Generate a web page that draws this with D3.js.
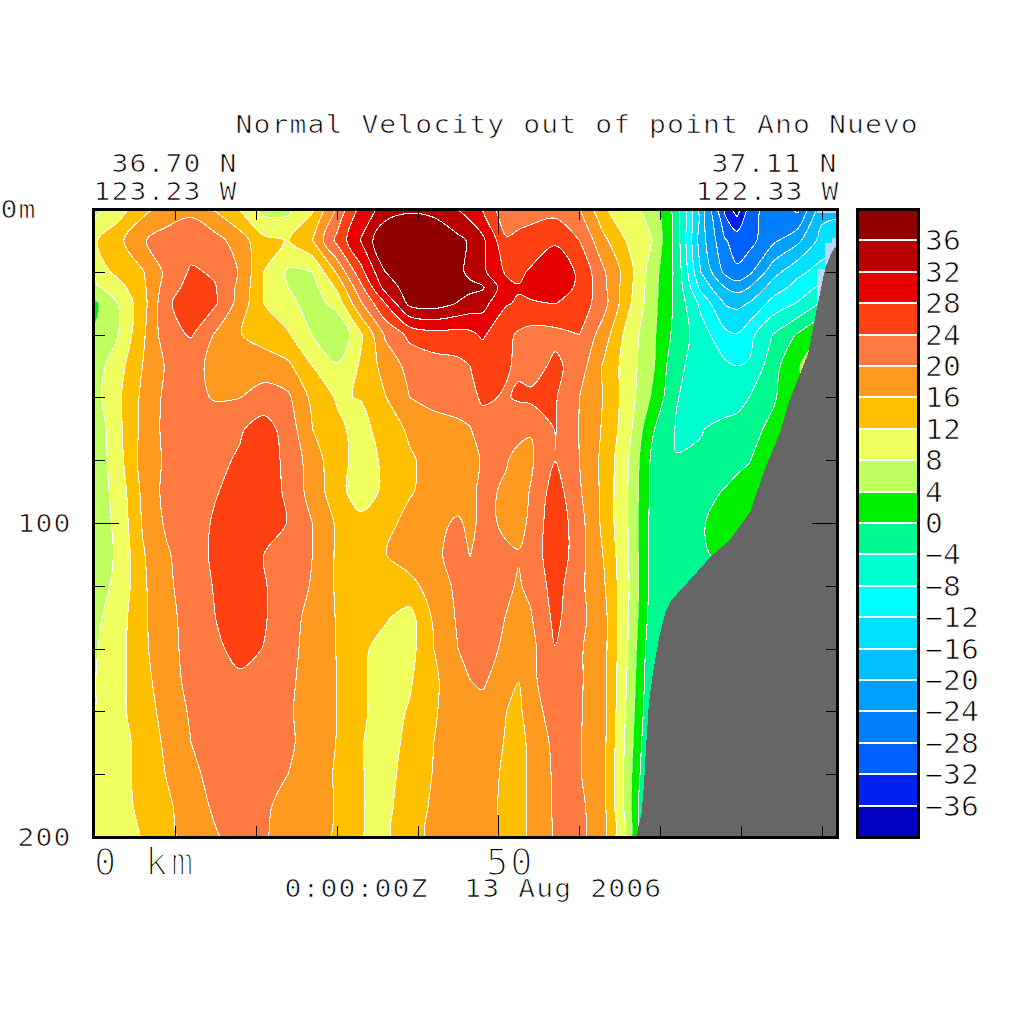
<!DOCTYPE html>
<html><head><meta charset="utf-8">
<script src="https://cdn.jsdelivr.net/npm/d3@7"></script>
<style>
html,body{margin:0;padding:0;background:#fff}
svg{display:block}
text{font-family:"DejaVu Sans Mono",monospace;fill:#000;stroke:#fff;stroke-width:.75px;white-space:pre}
</style></head><body>
<svg id="c" width="1024" height="1024"></svg>
<script>
// --- data ---
const kmCols=[0,3,6,9,12,15,18,21,24,27,30,33,36,39,42,45,46.5,48,51,52.5,54,57,60,63,66,69,72,75,78,79.5,81,84,87,90,93];
const depthRows=[0,10,20,25,30,40,50,60,70,80,90,100,110,120,130,140,150,160,170,180,190,200];
const d000=[6.5,10,14.6,18,19.2,15.5,11.8,6.5,7,11.4,20.5,29.5,33.5,35.6,35,31.9,30,28,20.5,22.5,23,22.5,20.3,12.5,9.5,6.5,-2,-18,-33,-38,-30.5,-25,-29,-17.5,-17];
const d010=[11.5,14.9,19.7,21.5,22.2,21.5,18,13,11.8,16,25,32.2,40,38.5,38.7,37,35.5,33,24.5,24.8,25,27.6,24,17,11.5,8,-1.7,-18,-27.7,-29.5,-29.5,-24.8,-21,-14.5,-14];
const d020=[10,13,15.7,21,24.5,23.5,19.7,12,7.4,8,16.5,26.7,36,38.5,38.7,37,35,33,27.3,27,28.6,30,27.5,20.5,14,6,-1,-16,-25,-27.5,-25,-17.5,-13,-10.5,-8];
const d025=[7,10.5,15,22,25.5,24.2,19,12,8,6.5,12.5,23,33.5,38,39,37.5,37,36.5,29.5,28.3,29,29.5,27.5,21,13.5,5.7,-1,-13,-20,-21.5,-20,-14,-10.5,-7,-5];
const d030=[3,8.2,14.3,23.3,26.5,24.5,18.5,12,9.3,6,9.5,19.6,28,37.2,38,35.8,34.5,33.5,28.3,27.6,27.7,28.1,26.5,21.5,13,5.5,-1,-9,-16.3,-17,-15.8,-10.5,-7.7,-3.5,-2];
const d040=[4.4,8,15.2,22.5,24.4,19.6,16.2,14.2,12.4,7.8,3.9,11.5,20.5,25,26.5,26.5,27,28.6,25,23.4,22.5,22.8,24,18,10.5,5,-1.5,-6,-11,-11.8,-9.3,-3.8,0.4,4,4];
const d050=[6,10.4,16,20.5,20.7,19.4,18,18.3,16.8,12,8.4,12.5,17.6,21.2,22.2,23,24,25,24.3,23.5,22,25,22,15.5,10,4.8,-3.2,-5.5,-7.2,-8,-7.6,-1.5,3.9,5,5];
const d060=[6.5,11.3,16.8,21,21.6,19.5,19.9,21.5,20.7,15,11.6,12.2,15.8,20,21.5,22.5,23,24.5,23.7,24.5,25,24.4,20,15.8,10,3.5,-3.8,-5.8,-5.8,-5.5,-4,-0.5,3.5,5,5];
const d070=[5,11,17,21.2,22.5,23.5,23.5,25.8,22.2,16,13,10.5,14,16.6,18,18.8,19.8,22.5,23,21,20.2,24.2,19.9,15.5,9.5,0.5,-4.3,-4.2,-3,-2.5,-1.3,1,4.5,5,5];
const d080=[5,10.5,17.5,20.7,21.8,23,24.5,26,23,18,13.5,10.5,12.6,15.5,17.3,18.3,19.2,20.2,20.2,19,19.5,23.9,20,15,8.3,-0.8,-3.9,-3.5,-2,-1,-0.2,3,4.5,5,5];
const d090=[5.5,9.5,16.8,21.3,22.7,23.8,25.1,26.3,23.2,18.3,13.8,9.4,13,15.7,17.2,18.3,19.2,20.8,19.5,18.8,20.2,26,20.5,15,8,-1,-2.6,-1.6,0.3,1.2,2,4,5,5,5];
const d100=[5.5,9,16.3,20.7,22.5,24.4,26.7,26.5,23.8,20,15.5,13.5,15,17,19,20.5,19.2,20.8,19.5,19,20.6,27,21.5,15,8,-1.3,-0.9,-0.4,1.6,2.4,3,4,5,5,5];
const d110=[6,8.5,15.6,19.5,22.5,24.6,26.3,24,22,20,15.5,13.3,15.9,17.5,19.3,21.2,19.9,21.7,20.4,20.2,21,27.2,21.5,15.8,8.3,-1.5,-1.1,-0.6,1,1.5,2,4,5,5,5];
const d120=[6.5,8.8,15.3,19.2,22,24.3,26,24.3,22,19.7,15.5,14.3,14.4,15,17.4,21,21.5,22,20.5,19.7,20.8,25.7,21,16.5,8.5,-1.5,-2,-2,-2,-2,-2,-2,-2,-2,-2];
const d130=[7,10,15.2,19,21.3,24,25.5,24.4,21.5,18.8,15.8,14.3,12.5,10.5,16.6,20.5,21,21.5,19.9,18.5,19.7,25,21.2,17.3,8.3,-2,-3,-3,-3,-3,-3,-3,-3,-3,-3];
const d140=[7.5,10.5,15,19,21,23.3,25.1,23.9,21.2,18.5,15.9,12.8,10.5,10.5,16,20,21,22,19,17.5,18.8,23.9,20.5,17.3,7.9,-3,-4,-4,-4,-4,-4,-4,-4,-4,-4];
const d150=[7.8,10.8,14.4,18.5,21,22,23.4,22.5,20.8,18.3,16,12.6,10.3,11.5,15.3,18.5,20,20.7,17.5,16.1,19.3,22,20.5,17.3,7.5,-3.5,-4,-4,-4,-4,-4,-4,-4,-4,-4];
const d160=[8,11,14,17.5,20.5,21.8,22.6,22,20.5,18.2,16,12.6,10.5,12.3,15.7,17.5,18,18.5,16,15,18.5,21.5,20.4,17.2,7,-4,-4,-4,-4,-4,-4,-4,-4,-4,-4];
const d170=[8.6,10.5,13.3,16.8,20,21.5,22,21.5,20.6,18.5,15.9,12.2,10.5,12.9,16,17.3,17.7,18,15.7,14.5,17,21,20.3,17,6.5,-5,-5,-5,-5,-5,-5,-5,-5,-5,-5];
const d180=[9,10.8,13,16.2,19.3,21,21.5,21,20,17.5,15.7,12.2,10.7,13.5,16.2,17.3,17.3,17.2,15.5,14,17,20.6,20.3,16.9,6,-6,-6,-6,-6,-6,-6,-6,-6,-6,-6];
const d190=[9.3,10.9,12.7,15.3,18,20.7,21,20.5,19,17.5,15.8,12.2,11,14,16.6,17.5,17.4,17.2,15.3,14,17,20.5,21,17,6,-8,-8,-8,-8,-8,-8,-8,-8,-8,-8];
const d200=[9.5,11,12.1,15,17.4,19.6,21.5,20.3,18.7,17.1,15.6,12.1,11.2,14.4,17,17.6,17.4,17.2,15.3,14,17,20.3,21,17.3,6.5,-9,-9,-9,-9,-9,-9,-9,-9,-9,-9];
const velocity=[d000,d010,d020,d025,d030,d040,d050,d060,d070,d080,d090,d100,d110,d120,d130,d140,d150,d160,d170,d180,d190,d200];
const levels=[-36,-32,-28,-24,-20,-16,-12,-8,-4,0,4,8,12,16,20,24,28,32,36];
const bandColors=["#0000c0","#0020f0","#0060ff","#0080ff","#00a0ff","#00c0ff","#00e0ff","#00ffff","#00ffd0","#00f890","#00f000","#c0ff60","#f0ff60","#ffc000","#ff9a20","#ff7a40","#ff4010","#e60000","#b80000","#900000"];
const bottomKm=[67,67.7,68,68.2,68.6,69.1,69.8,70.6,71.4,74,76.1,78.6,81.1,82.9,84.8,86,88.3,89.4,90.4,91.2,91.85];
const bottomDepth=[200,192.4,182.8,173.2,157.3,147.8,137.3,128.7,124.5,117.2,111.1,105.4,96.5,83.1,71.3,60.8,45.9,31.2,18.8,13.7,11.5];
const shelfKm=[90.4,91.2,91.2,91.85,91.85,89.4,89.4,90.4];
const shelfDepth=[10.8,10.8,9.2,9.2,35,35,19.1,19.1];
const capKm=[89.4,91.85,91.85,89.4];
const capDepth=[0,0,1.3,1.3];
const kmTicks=[10,20,30,40,50,60,70,80,90];
const depthTicks=[20,40,60,80,100,120,140,160,180];
const barTickLabels=[36,32,28,24,20,16,12,8,4,0,-4,-8,-12,-16,-20,-24,-28,-32,-36];

// --- scales ---
const svg=d3.select("#c");
const x=d3.scaleLinear().domain([0,91.85]).range([94,837]);
const y=d3.scaleLinear().domain([0,200]).range([209,837]);
const barY=d3.scaleLinear().domain([40,-40]).range([209,837]);
const kmOf=d3.scaleLinear().domain(kmCols.map((_,i)=>i)).range(kmCols);
const depthOf=d3.scaleLinear().domain(depthRows.map((_,i)=>i)).range(depthRows);

svg.append("clipPath").attr("id","plot").append("rect").attr("x",94).attr("y",209).attr("width",743).attr("height",628);
const plot=svg.append("g").attr("clip-path","url(#plot)");
plot.append("rect").attr("x",94).attr("y",209).attr("width",743).attr("height",628).attr("fill",bandColors[0]);
const contours=d3.contours().size([kmCols.length,depthRows.length]).thresholds(levels)(velocity.flat());
const ringLine=d3.line().x(p=>x(kmOf(p[0]-.5))).y(p=>y(depthOf(p[1]-.5))).curve(d3.curveCatmullRomClosed.alpha(.5));
const contourPath=d=>d.coordinates.flat().map(r=>ringLine(r.slice(0,-1))).join("");
plot.selectAll("path.band").data(contours).join("path").attr("class","band")
  .attr("d",contourPath).attr("fill",d=>bandColors[levels.indexOf(d.value)+1]).attr("fill-rule","evenodd")
  .attr("stroke","#fff").attr("stroke-opacity",d=>d.value===4?.45:1).attr("stroke-width",1.1).attr("shape-rendering","crispEdges");
const line=d3.line().x(p=>x(p[0])).y(p=>y(p[1]));
plot.append("path").attr("d",line(d3.zip(shelfKm,shelfDepth))+"Z").attr("fill","#b8d8ff").attr("shape-rendering","crispEdges");
plot.append("path").attr("d",line(d3.zip(capKm,capDepth))+"Z").attr("fill","#b8d8ff").attr("shape-rendering","crispEdges");
const land=d3.zip(bottomKm,bottomDepth);
land.push([91.85,200]);
plot.append("path").attr("d",line(land)+"Z").attr("fill","#666666").attr("shape-rendering","crispEdges");

// --- axes: ticks point inwards from all four sides ---
function styleAxis(g,long,major,attr,sign){
  g.select(".domain").remove();
  g.selectAll(".tick text").remove();
  g.selectAll(".tick line").attr("stroke","#000").attr("stroke-width",1).attr("shape-rendering","crispEdges")
   .attr(attr,d=>sign*(d===major?long:11));
}
svg.append("g").attr("transform","translate(0,209)").call(d3.axisBottom(x).tickValues(kmTicks).tickFormat("")).call(g=>styleAxis(g,25,50,"y2",1));
svg.append("g").attr("transform","translate(0,837)").call(d3.axisTop(x).tickValues(kmTicks).tickFormat("")).call(g=>styleAxis(g,22,50,"y2",-1));
svg.append("g").attr("transform","translate(94,0)").call(d3.axisRight(y).tickValues(depthTicks).tickFormat("")).call(g=>styleAxis(g,25,100,"x2",1));
svg.append("g").attr("transform","translate(837,0)").call(d3.axisLeft(y).tickValues(depthTicks).tickFormat("")).call(g=>styleAxis(g,25,100,"x2",-1));
svg.append("rect").attr("x",93.5).attr("y",209).attr("width",744).attr("height",628).attr("fill","none").attr("stroke","#000").attr("stroke-width",3).attr("shape-rendering","crispEdges");

// --- colour bar ---
const bar=svg.append("g");
const barEdges=[-40,...levels,40];
bar.selectAll("rect.b").data(bandColors).join("rect").attr("class","b")
  .attr("x",857).attr("width",61).attr("shape-rendering","crispEdges")
  .attr("y",(d,i)=>barY(barEdges[i+1])).attr("height",(d,i)=>barY(barEdges[i])-barY(barEdges[i+1])).attr("fill",d=>d);
bar.selectAll("line").data(levels).join("line").attr("x1",858).attr("x2",917)
  .attr("y1",d=>barY(d)).attr("y2",d=>barY(d)).attr("stroke","#fff").attr("stroke-width",2).attr("shape-rendering","crispEdges");
bar.append("rect").attr("x",857).attr("y",209).attr("width",61).attr("height",628).attr("fill","none").attr("stroke","#000").attr("stroke-width",3).attr("shape-rendering","crispEdges");

// --- text: monospaced cells of the original stroke font, slightly widened ---
function label(t,px,py,size=25.5,ls=1,sx=1.1,thin=.75){
  svg.append("text").attr("transform",`translate(${px},${py}) scale(${sx},1)`).attr("font-size",size).attr("letter-spacing",ls).style("stroke-width",thin+"px").text(t);
}
label("Normal Velocity out of point Ano Nuevo",235.5,132.5);
label("36.70 N",111.5,172);
label("123.23 W",93.5,200);
label("37.11 N",711.5,172);
label("122.33 W",695.5,200);
label("0m",0.5,218);
label("100",17.5,532);
label("200",17.5,846);
label("0 km",94,875,37,3.4,1,1.9);
label("50",486,875,37,2,1,1.9);
label("0:00:00Z  13 Aug 2006",284.5,897);
barTickLabels.forEach(v=>label(String(v).replace("-","\u2212"),925,barY(v)+10,27,0.1));
</script>
</body></html>
